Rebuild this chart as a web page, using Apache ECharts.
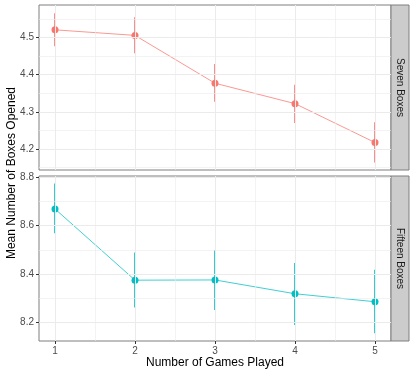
<!DOCTYPE html>
<html>
<head>
<meta charset="utf-8">
<script src="https://cdn.jsdelivr.net/npm/echarts@6/dist/echarts.min.js"></script>
<style>
  html, body { margin: 0; padding: 0; background: #fff; }
  #main { width: 415px; height: 374px; }
</style>
</head>
<body>
<div id="main"></div>
<script>
var games = [1, 2, 3, 4, 5];

var sevenMean = [4.521, 4.506, 4.377, 4.322, 4.217];
var sevenLow = [4.477, 4.458, 4.327, 4.270, 4.163];
var sevenHigh = [4.566, 4.555, 4.429, 4.373, 4.272];

var fifteenMean = [8.669, 8.375, 8.376, 8.319, 8.286];
var fifteenLow = [8.569, 8.262, 8.252, 8.190, 8.156];
var fifteenHigh = [8.774, 8.489, 8.500, 8.446, 8.418];

var xTicks = [1, 2, 3, 4, 5];
var xMinor = [1.5, 2.5, 3.5, 4.5];
var sevenTicks = [4.2, 4.3, 4.4, 4.5];
var sevenMinor = [4.15, 4.25, 4.35, 4.45, 4.55];
var fifteenTicks = [8.2, 8.4, 8.6, 8.8];
var fifteenMinor = [8.3, 8.5, 8.7];

var RED = '#F8766D';
var CYAN = '#00BFC4';
var FONT = 'Liberation Sans';

var chart = echarts.init(document.getElementById('main'), null, { renderer: 'canvas' });

// 网格线用 markLine 画，主线粗一点
function gridLines(yMajor, yMinor) {
  var data = [];
  xMinor.forEach(function (v) { data.push({ xAxis: v, lineStyle: { width: 0.6 } }); });
  yMinor.forEach(function (v) { data.push({ yAxis: v, lineStyle: { width: 0.6 } }); });
  xTicks.forEach(function (v) { data.push({ xAxis: v, lineStyle: { width: 1 } }); });
  yMajor.forEach(function (v) { data.push({ yAxis: v, lineStyle: { width: 1 } }); });
  return data;
}

function zip3(a, b, c) {
  return a.map(function (v, i) { return [v, b[i], c[i]]; });
}
function zip2(a, b) {
  return a.map(function (v, i) { return [v, b[i]]; });
}

function errorBar(params, api) {
  var top = api.coord([api.value(0), api.value(2)]);
  var bot = api.coord([api.value(0), api.value(1)]);
  return {
    type: 'line',
    shape: { x1: top[0], y1: top[1], x2: bot[0], y2: bot[1] },
    style: { stroke: api.visual('color'), lineWidth: 1.6 }
  };
}

function xAxisCfg(idx, showLabels) {
  return {
    type: 'value',
    gridIndex: idx,
    min: 0.8,
    max: 5.2,
    axisLine: { show: false },
    splitLine: { show: false },
    axisTick: {
      show: showLabels,
      customValues: xTicks,
      length: 3,
      lineStyle: { color: '#333333', width: 1 }
    },
    axisLabel: {
      show: showLabels,
      customValues: xTicks,
      color: '#4d4d4d',
      fontFamily: FONT,
      fontSize: 10,
      margin: 5
    },
    name: showLabels ? 'Number of Games Played' : '',
    nameLocation: 'middle',
    nameGap: 21,
    nameTextStyle: { color: '#000', fontFamily: FONT, fontSize: 12, verticalAlign: 'middle' }
  };
}

function yAxisCfg(idx, min, max, ticks) {
  return {
    type: 'value',
    gridIndex: idx,
    min: min,
    max: max,
    axisLine: { show: false },
    splitLine: { show: false },
    axisTick: {
      show: true,
      customValues: ticks,
      length: 3,
      lineStyle: { color: '#333333', width: 1 }
    },
    axisLabel: {
      customValues: ticks,
      color: '#4d4d4d',
      fontFamily: FONT,
      fontSize: 10,
      margin: 5,
      formatter: function (v) { return v.toFixed(1); }
    }
  };
}

var option = {
  animation: false,
  grid: [
    { left: 39, top: 5, width: 352, height: 165, show: true, borderColor: '#7f7f7f', borderWidth: 1, backgroundColor: '#fff' },
    { left: 39, top: 176, width: 352, height: 165, show: true, borderColor: '#7f7f7f', borderWidth: 1, backgroundColor: '#fff' }
  ],
  xAxis: [xAxisCfg(0, false), xAxisCfg(1, true)],
  yAxis: [
    yAxisCfg(0, 4.143, 4.588, sevenTicks),
    yAxisCfg(1, 8.124, 8.805, fifteenTicks)
  ],
  graphic: [
    { type: 'rect', shape: { x: 391, y: 5, width: 18, height: 165 }, style: { fill: '#cccccc', stroke: '#7f7f7f', lineWidth: 1 } },
    { type: 'rect', shape: { x: 391, y: 176, width: 18, height: 165 }, style: { fill: '#cccccc', stroke: '#7f7f7f', lineWidth: 1 } },
    { type: 'text', x: 400, y: 87.5, rotation: -Math.PI / 2, style: { text: 'Seven Boxes', fill: '#1a1a1a', font: '10px ' + FONT, align: 'center', verticalAlign: 'middle' } },
    { type: 'text', x: 400, y: 258.5, rotation: -Math.PI / 2, style: { text: 'Fifteen Boxes', fill: '#1a1a1a', font: '10px ' + FONT, align: 'center', verticalAlign: 'middle' } },
    { type: 'text', x: 12, y: 173, rotation: Math.PI / 2, style: { text: 'Mean Number of Boxes Opened', fill: '#000', font: '12px ' + FONT, align: 'center', verticalAlign: 'middle' } }
  ],
  series: [
    {
      type: 'scatter', xAxisIndex: 0, yAxisIndex: 0, data: [], silent: true, z: 1,
      markLine: { silent: true, symbol: 'none', label: { show: false }, lineStyle: { color: '#ebebeb', type: 'solid' }, data: gridLines(sevenTicks, sevenMinor) }
    },
    {
      type: 'scatter', xAxisIndex: 1, yAxisIndex: 1, data: [], silent: true, z: 1,
      markLine: { silent: true, symbol: 'none', label: { show: false }, lineStyle: { color: '#ebebeb', type: 'solid' }, data: gridLines(fifteenTicks, fifteenMinor) }
    },
    {
      name: 'Seven Boxes', type: 'line', xAxisIndex: 0, yAxisIndex: 0, z: 2,
      data: zip2(games, sevenMean), showSymbol: false,
      lineStyle: { color: RED, width: 1, opacity: 0.75 }
    },
    {
      name: 'Fifteen Boxes', type: 'line', xAxisIndex: 1, yAxisIndex: 1, z: 2,
      data: zip2(games, fifteenMean), showSymbol: false,
      lineStyle: { color: CYAN, width: 1, opacity: 0.75 }
    },
    {
      type: 'custom', xAxisIndex: 0, yAxisIndex: 0, z: 3,
      itemStyle: { color: RED },
      encode: { x: 0, y: [1, 2] },
      data: zip3(games, sevenLow, sevenHigh),
      renderItem: errorBar
    },
    {
      type: 'custom', xAxisIndex: 1, yAxisIndex: 1, z: 3,
      itemStyle: { color: CYAN },
      encode: { x: 0, y: [1, 2] },
      data: zip3(games, fifteenLow, fifteenHigh),
      renderItem: errorBar
    },
    {
      type: 'scatter', xAxisIndex: 0, yAxisIndex: 0, z: 4,
      symbol: 'circle', symbolSize: 7,
      itemStyle: { color: RED, opacity: 1 },
      data: zip2(games, sevenMean)
    },
    {
      type: 'scatter', xAxisIndex: 1, yAxisIndex: 1, z: 4,
      symbol: 'circle', symbolSize: 7,
      itemStyle: { color: CYAN, opacity: 1 },
      data: zip2(games, fifteenMean)
    }
  ]
};

chart.setOption(option);
</script>
</body>
</html>
